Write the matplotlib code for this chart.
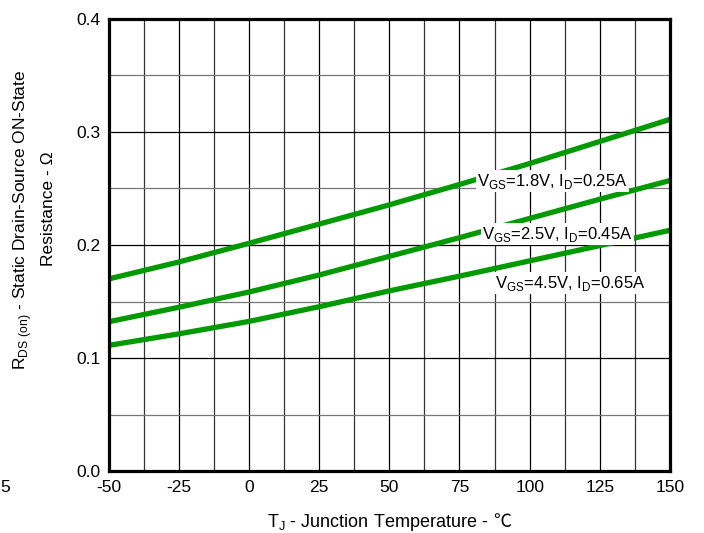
import matplotlib.pyplot as plt

plt.rcParams['font.family'] = ['Liberation Sans', 'Noto Sans CJK SC', 'DejaVu Sans']
plt.rcParams['mathtext.fontset'] = 'custom'
plt.rcParams['mathtext.rm'] = 'Liberation Sans'

## junction temperature (C)
temp = [-50, -25, 0, 25, 50, 75, 100, 125, 150]

## RDS(on) in ohm for each bias condition
r_18v = [0.170, 0.185, 0.2015, 0.2185, 0.2355, 0.2535, 0.272, 0.2915, 0.311]
r_25v = [0.1322, 0.145, 0.1585, 0.1735, 0.190, 0.2065, 0.2235, 0.2405, 0.257]
r_45v = [0.1113, 0.1215, 0.1325, 0.1455, 0.1595, 0.1725, 0.186, 0.1995, 0.213]

labels = ['V$_{\\mathrm{GS}}$=1.8V, I$_{\\mathrm{D}}$=0.25A',
          'V$_{\\mathrm{GS}}$=2.5V, I$_{\\mathrm{D}}$=0.45A',
          'V$_{\\mathrm{GS}}$=4.5V, I$_{\\mathrm{D}}$=0.65A']
label_x = [81.2, 83.1, 87.6]
label_y = [0.2565, 0.2097, 0.1662]

xticks = [-50, -25, 0, 25, 50, 75, 100, 125, 150]
yticks = [0.0, 0.1, 0.2, 0.3, 0.4]

fig = plt.figure(figsize=(7.04, 5.33), dpi=100)
ax = fig.add_axes([0.1543, 0.1156, 0.7974, 0.8494])

green = '#009a00'
for r in (r_18v, r_25v, r_45v):
    ax.plot(temp, r, color=green, linewidth=3.8, solid_capstyle='butt',
            solid_joinstyle='round', zorder=3)

for lab, lx, ly in zip(labels, label_x, label_y):
    ax.text(lx, ly, lab, fontsize=12, va='center', ha='left', zorder=4,
            bbox=dict(facecolor='white', edgecolor='none', pad=1.0))

# grid
for i in range(17):
    gx = -50 + 12.5 * i
    ax.axvline(gx, color='black' if i % 2 == 0 else '#333333', linewidth=0.9, zorder=1)
for j in range(9):
    gy = 0.05 * j
    ax.axhline(gy, color='black' if j % 2 == 0 else '#777777', linewidth=0.9, zorder=1)

ax.set_xlim(-50, 150)
ax.set_ylim(0, 0.4)
ax.set_xticks(xticks)
ax.set_xticklabels([str(t) for t in xticks])
ax.set_yticks(yticks)
ax.set_yticklabels(['%.1f' % t for t in yticks])
ax.tick_params(length=0, labelsize=12.5, pad=6)
for s in ax.spines.values():
    s.set_linewidth(2.3)
    s.set_color('black')
    s.set_zorder(5)

# x label: mathtext part + the degree sign drawn from a font that has it
xl_y = 1 - 527 / 533
xl_main = fig.text(0.5, xl_y, 'T$_{\\mathrm{J}}$ - Junction Temperature -',
                   fontsize=13, ha='left', va='baseline')
xl_unit = fig.text(0.5, xl_y, '\u2103', fontsize=13, ha='left', va='baseline',
                   family=['Noto Sans CJK SC'], fontweight='light')
fig.canvas.draw()
r = fig.canvas.get_renderer()
w_main = xl_main.get_window_extent(r).width
w_unit = xl_unit.get_window_extent(r).width
gap = 5
cx = 389.3
x0 = cx - (w_main + gap + w_unit) / 2
xl_main.set_x(x0 / 704)
xl_unit.set_x((x0 + w_main + gap) / 704)

# two-line y label, placed line by line as in the original
fig.text(23 / 704, 1 - 220 / 533, 'R$_{\\mathrm{DS\\ (on)}}$ - Static Drain-Source ON-State',
         fontsize=12.5, rotation=90, ha='center', va='center')
fig.text(49 / 704, 1 - 209 / 533, 'Resistance - \u03a9',
         fontsize=12.5, rotation=90, ha='center', va='center')

fig.text(0.0, 1 - 487 / 533, '5', fontsize=12.5, va='center', ha='left')

plt.savefig('out.png', dpi=100)
